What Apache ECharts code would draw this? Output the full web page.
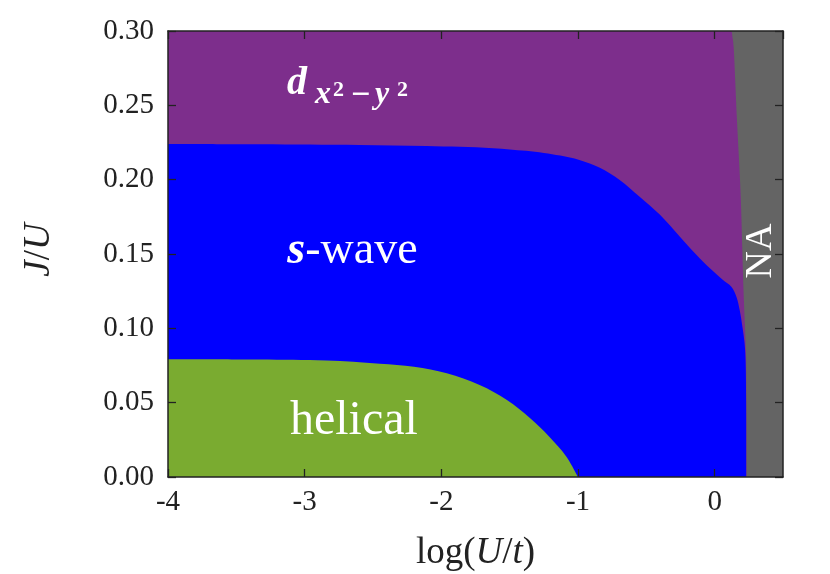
<!DOCTYPE html>
<html><head><meta charset="utf-8">
<script src="https://cdn.jsdelivr.net/npm/echarts@6/dist/echarts.min.js"></script>
<style>html,body{margin:0;padding:0;background:#fff}#c{width:830px;height:574px}</style>
</head><body><div id="c"></div>
<script>
// ---- data ----
const xRange = [-4, 0.5];
const yRange = [0, 0.30];
const xTickStep = 1;
const yTickStep = 0.05;
// whole panel (NA background)
const naRegion = [[-4, 0.30], [0.5, 0.30]];
// d-wave region: top edge, then the NA boundary
const dWaveBoundary = [[-4, 0.30], [0.117, 0.30], [0.130, 0.296], [0.139, 0.289], [0.151, 0.265], [0.163, 0.240], [0.180, 0.210], [0.192, 0.185], [0.203, 0.150], [0.210, 0.128], [0.222, 0.100], [0.230, 0.080], [0.233, 0.040], [0.234, 0]];
// s-wave region upper boundary
const sWaveBoundary = [[-4, 0.224], [-3.33, 0.2238], [-2.6, 0.2233], [-2.11, 0.2226], [-1.62, 0.2212], [-1.38, 0.2194], [-1.25, 0.2180], [-1.13, 0.2162], [-0.99, 0.2132], [-0.84, 0.2080], [-0.695, 0.1998], [-0.549, 0.1885], [-0.402, 0.1765], [-0.256, 0.1618], [-0.134, 0.1495], [-0.037, 0.1405], [0.061, 0.1325], [0.122, 0.1280], [0.159, 0.1213], [0.183, 0.1123], [0.203, 0.1011], [0.219, 0.0899], [0.227, 0.0760], [0.230, 0.0500], [0.231, 0]];
// helical region upper boundary
const helicalBoundary = [[-4, 0.0792], [-3.33, 0.0790], [-2.84, 0.0783], [-2.45, 0.0762], [-2.2, 0.0742], [-1.96, 0.0698], [-1.72, 0.0619], [-1.52, 0.0518], [-1.35, 0.0395], [-1.21, 0.0271], [-1.085, 0.0137], [-1.0, 0]];
// label anchor points (data coordinates)
const labelHelical = [-2.64, 0.0377];
const labelSWave = [-2.65, 0.1520];
const labelDWave = [-3.13, 0.2648];
const labelNA = [0.336, 0.1520];

const serif = 'Liberation Serif';
const ink = '#222';

const chart = echarts.init(document.getElementById('c'));

function areaSeries(name, data, color) {
  return {
    name: name, type: 'line', data: data, symbol: 'none', silent: true,
    lineStyle: {width: 0, color: color}, areaStyle: {color: color, opacity: 1},
    smooth: 0.35, z: 1, animation: false
  };
}

const axisCommon = {
  type: 'value', z: 10,
  axisLine: {show: true, onZero: false, lineStyle: {color: ink, width: 1.5}},
  axisTick: {show: true, inside: true, length: 8, lineStyle: {color: ink, width: 1.3}},
  splitLine: {show: false}
};

chart.setOption({
  animation: false,
  grid: {left: 168, right: 47, top: 31, bottom: 97, containLabel: false, outerBoundsMode: 'none'},
  xAxis: [
    Object.assign({}, axisCommon, {
      position: 'bottom', min: xRange[0], max: xRange[1], interval: xTickStep,
      axisLabel: {fontFamily: serif, fontSize: 29, color: ink, margin: 11, showMaxLabel: false},
      name: 'log({i|U}/{i|t})', nameLocation: 'middle', nameGap: 58,
      nameTextStyle: {fontFamily: serif, fontSize: 37, color: ink,
        rich: {i: {fontFamily: serif, fontSize: 37, fontStyle: 'italic', color: ink}}}
    }),
    Object.assign({}, axisCommon, {
      position: 'top', min: xRange[0], max: xRange[1], interval: xTickStep,
      axisLabel: {show: false}
    })
  ],
  yAxis: [
    Object.assign({}, axisCommon, {
      position: 'left', min: yRange[0], max: yRange[1], interval: yTickStep,
      axisLabel: {fontFamily: serif, fontSize: 29, color: ink, margin: 14,
        formatter: function (v) { return v.toFixed(2); }},
      name: '{i|J}/{i|U}', nameLocation: 'middle', nameGap: 110, nameRotate: 90,
      nameTextStyle: {fontFamily: serif, fontSize: 37, color: ink, padding: [0, 0, 0, 8],
        rich: {i: {fontFamily: serif, fontSize: 37, fontStyle: 'italic', color: ink}}}
    }),
    Object.assign({}, axisCommon, {
      position: 'right', min: yRange[0], max: yRange[1], interval: yTickStep,
      axisLabel: {show: false}
    })
  ],
  series: [
    areaSeries('NA', naRegion, '#646464'),
    areaSeries('d-wave', dWaveBoundary, '#7D2E8C'),
    areaSeries('s-wave', sWaveBoundary, '#0000FF'),
    areaSeries('helical', helicalBoundary, '#7AAB30')
  ]
});

function px(p) { return chart.convertToPixel({xAxisIndex: 0, yAxisIndex: 0}, p); }
const h = px(labelHelical), s = px(labelSWave), d = px(labelDWave), na = px(labelNA);
function t(text, x, y, size, extra) {
  return {type: 'text', z: 20, x: x, y: y, style: Object.assign({
    text: text, fill: '#fff', fontFamily: serif, fontSize: size,
    align: 'left', verticalAlign: 'middle'
  }, extra || {})};
}
const bi = {fontStyle: 'italic', fontWeight: 'bold'};
const naLabel = t('NA', na[0], na[1], 38, {align: 'center'});
naLabel.rotation = Math.PI / 2;
chart.setOption({
  graphic: [
    t('helical', h[0], h[1], 48, {align: 'center'}),
    {
      type: 'text', z: 20, x: s[0], y: s[1],
      style: {
        text: '{b|s}-wave', fill: '#fff', fontFamily: serif, fontSize: 46,
        align: 'center', verticalAlign: 'middle',
        rich: {b: {fontFamily: serif, fontSize: 46, fontStyle: 'italic', fontWeight: 'bold', fill: '#fff'}}
      }
    },
    t('d', d[0], d[1], 40, bi),
    t('x', d[0] + 28, d[1] + 11.5, 32, bi),
    t('2', d[0] + 46, d[1] + 7, 22, {fontWeight: 'bold'}),
    t('\u2212', d[0] + 64, d[1] + 12.5, 34, {fontWeight: 'bold'}),
    t('y', d[0] + 88, d[1] + 11.5, 32, bi),
    t('2', d[0] + 110, d[1] + 7, 22, {fontWeight: 'bold'}),
    naLabel
  ]
});
</script>
</body></html>
